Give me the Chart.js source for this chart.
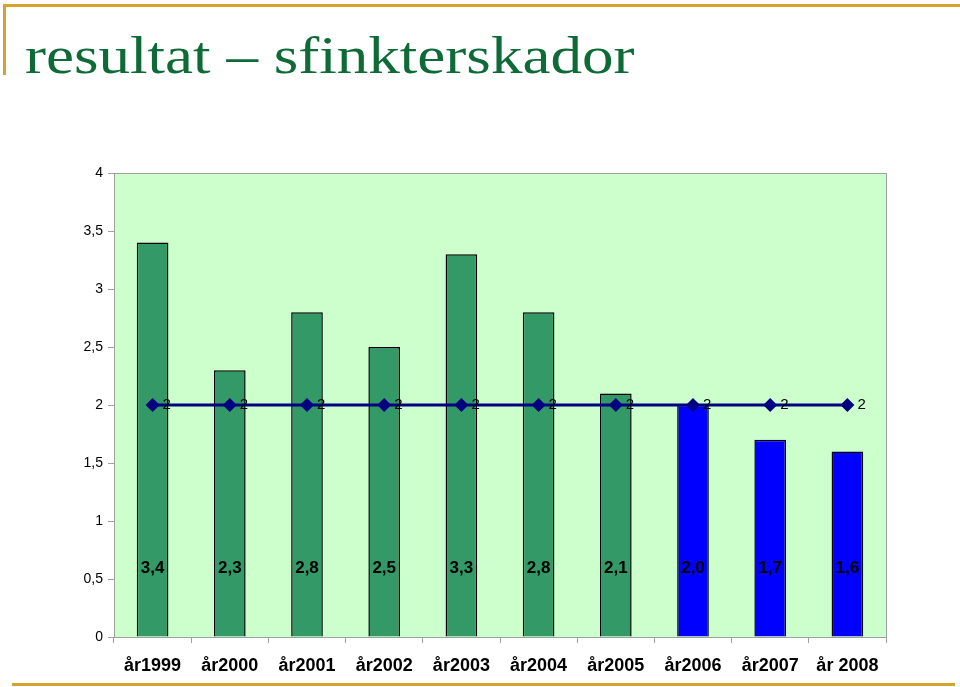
<!DOCTYPE html>
<html>
<head>
<meta charset="utf-8">
<title>resultat – sfinkterskador</title>
<script src="https://cdn.jsdelivr.net/npm/chart.js@4"></script>
<style>
  html, body { margin: 0; padding: 0; background: #fff; }
  #wrap { position: relative; width: 960px; height: 687px; overflow: hidden; }
  #chartCanvas { position: absolute; left: 0; top: 0; }
  .gold { position: absolute; background: #D6A42E; }
  #title {
    position: absolute; left: 25px; top: 29px; margin: 0;
    font: 53px "Liberation Serif", "DejaVu Serif", serif;
    line-height: 53px; color: #0E6B38; white-space: nowrap;
    transform: scaleX(1.19); transform-origin: left top;
  }
</style>
</head>
<body>
<div id="wrap">
  <div class="gold" style="left:3px; top:4px; width:957px; height:3px;"></div>
  <div class="gold" style="left:3px; top:4px; width:3px; height:71px;"></div>
  <div class="gold" style="left:12px; top:683px; width:943px; height:3px;"></div>
  <h1 id="title">resultat – sfinkterskador</h1>
  <canvas id="chartCanvas" width="960" height="687"></canvas>
</div>
<script>
// data
const years = ["år1999", "år2000", "år2001", "år2002", "år2003", "år2004", "år2005", "år2006", "år2007", "år 2008"];
const injuries = [3.4, 2.3, 2.8, 2.5, 3.3, 2.8, 2.1, 2.0, 1.7, 1.6];
const reference = [2, 2, 2, 2, 2, 2, 2, 2, 2, 2];
const yTicks = [0, 0.5, 1, 1.5, 2, 2.5, 3, 3.5, 4];

const barColors = years.map((y, i) => i < 7 ? "#339966" : "#0000FF");

// plot background + frame
const plotBackground = {
  id: "plotBackground",
  beforeDraw(chart) {
    const { ctx, chartArea: a } = chart;
    ctx.save();
    ctx.fillStyle = "#CCFFCC";
    ctx.fillRect(a.left, a.top, a.right - a.left, a.bottom - a.top);
    ctx.strokeStyle = "#A0A0A0";
    ctx.lineWidth = 1;
    ctx.strokeRect(a.left + 0.5, a.top + 0.5, a.right - a.left, a.bottom - a.top);
    ctx.restore();
  }
};

// value labels on bars and on the line points
const valueLabels = {
  id: "valueLabels",
  afterDatasetsDraw(chart) {
    const { ctx } = chart;
    const yScale = chart.scales.y;
    ctx.save();
    ctx.fillStyle = "#000";
    ctx.textBaseline = "middle";

    const bars = chart.getDatasetMeta(0);
    ctx.font = "bold 17px 'Liberation Sans', Arial, sans-serif";
    ctx.textAlign = "center";
    bars.data.forEach((el, i) => {
      ctx.fillText(injuries[i].toFixed(1).replace(".", ","), el.x, yScale.getPixelForValue(0.59));
    });

    const pts = chart.getDatasetMeta(1);
    ctx.font = "15px 'Liberation Sans', Arial, sans-serif";
    ctx.textAlign = "left";
    pts.data.forEach((el, i) => {
      ctx.fillText(String(reference[i]), el.x + 10, el.y);
    });
    ctx.restore();
  }
};

const ctx = document.getElementById("chartCanvas").getContext("2d");
const chart = new Chart(ctx, {
  type: "bar",
  data: {
    labels: years,
    datasets: [{
      type: "bar",
      data: injuries,
      backgroundColor: barColors,
      borderColor: "#000",
      borderWidth: 1.5,
      barPercentage: 0.41,
      categoryPercentage: 1,
      order: 2
    }, {
      type: "line",
      data: reference,
      borderColor: "#000080",
      backgroundColor: "#000080",
      borderWidth: 3,
      pointStyle: "rectRot",
      pointRadius: 7,
      pointBorderWidth: 0,
      order: 1
    }]
  },
  options: {
    responsive: false,
    animation: false,
    layout: { padding: { top: 173, right: 74, left: 0, bottom: 0 } },
    plugins: {
      legend: { display: false },
      tooltip: { enabled: false },
      title: { display: false }
    },
    scales: {
      x: {
        offset: true,
        grid: { offset: true, drawOnChartArea: false, drawTicks: true, tickLength: 6, color: "#A0A0A0" },
        border: { display: true, color: "#A0A0A0" },
        ticks: {
          color: "#000",
          padding: 12,
          maxRotation: 0,
          autoSkip: false,
          font: { family: "'Liberation Sans', Arial, sans-serif", size: 18, weight: "bold" }
        },
        afterFit(scale) { scale.height = 50; }
      },
      y: {
        min: 0,
        max: 4,
        afterBuildTicks(scale) { scale.ticks = yTicks.map(v => ({ value: v })); },
        grid: { drawOnChartArea: false, drawTicks: true, tickLength: 6, color: "#A0A0A0" },
        border: { display: true, color: "#A0A0A0" },
        ticks: {
          color: "#000",
          padding: 5,
          font: { family: "'Liberation Sans', Arial, sans-serif", size: 14 },
          callback: v => String(v).replace(".", ",")
        },
        afterFit(scale) { scale.width = 114; }
      }
    }
  },
  plugins: [plotBackground, valueLabels]
});
</script>
</body>
</html>
